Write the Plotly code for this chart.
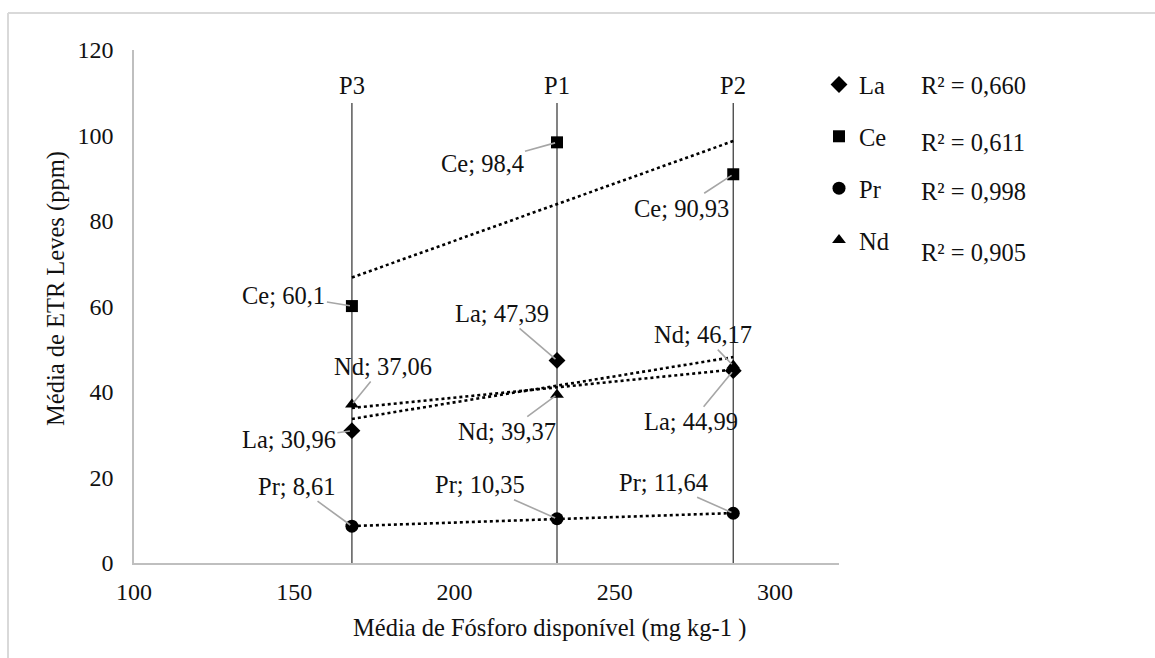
import numpy as np
import plotly.graph_objects as go

# Sampling sites and their mean available phosphorus (mg kg-1)
sites = ["P3", "P1", "P2"]
fosforo = [168, 232, 287]

# Mean light rare-earth element contents (ppm) at each site
la = [30.96, 47.39, 44.99]
ce = [60.1, 98.4, 90.93]
pr = [8.61, 10.35, 11.64]
nd = [37.06, 39.37, 46.17]

r2_labels = ["R² = 0,660", "R² = 0,611", "R² = 0,998", "R² = 0,905"]

FONT = "Liberation Serif"
FS = 24.5
TICK_FS = 24
INK = "#111"

# Plot-area geometry in pixels (used for placing free text)
L, R, T, B = 134, 839, 50, 563
W, H = R - L, B - T


def px_x(px):
    return (px - L) / W


def px_y(py):
    return (B - py) / H


series = [
    ("La", la, "diamond", 13),
    ("Ce", ce, "square", 12),
    ("Pr", pr, "circle", 13),
    ("Nd", nd, "triangle-up", 12),
]

fig = go.Figure()

# Vertical reference lines for each site
for name, xv in zip(sites, fosforo):
    fig.add_shape(type="line", xref="x", yref="y", x0=xv, x1=xv, y0=0, y1=107.6,
                  line=dict(color="#404040", width=1.3), layer="below")
    fig.add_annotation(x=xv, y=111.6, xref="x", yref="y", text=name, showarrow=False,
                       font=dict(family=FONT, size=FS, color=INK))

# Linear trendlines (dotted) over the range of the data
xs = np.array(fosforo, dtype=float)
for name, vals, sym, sz in series:
    slope, inter = np.polyfit(xs, np.array(vals), 1)
    xl = np.array([xs.min(), xs.max()])
    fig.add_trace(go.Scatter(x=xl, y=slope * xl + inter, mode="lines",
                             line=dict(color="black", width=2.6, dash="dot"),
                             showlegend=False, hoverinfo="skip"))

# Markers
for name, vals, sym, sz in series:
    fig.add_trace(go.Scatter(x=fosforo, y=vals, mode="markers", name=name,
                             legendgroup=name,
                             marker=dict(symbol=sym, size=sz, color="black"),
                             showlegend=True))

# Data labels with leader lines (pixel offsets from each point)
label_offsets = {
    "La": [(-63, 9), (-55, -47), (-42, 51)],
    "Ce": [(-68, -11), (-75, 21), (-52, 34)],
    "Pr": [(-55, -40), (-77, -34), (-70, -31)],
    "Nd": [(31, -38), (-50, 37), (-30, -31)],
}


def fmt(v):
    s = ("%.2f" % v).rstrip("0").rstrip(".")
    return s.replace(".", ",")


for name, vals, sym, sz in series:
    for j, (xv, yv) in enumerate(zip(fosforo, vals)):
        ax, ay = label_offsets[name][j]
        fig.add_annotation(x=xv, y=yv, xref="x", yref="y",
                           text=f"{name}; {fmt(yv)}", showarrow=True,
                           arrowhead=0, arrowwidth=1.6, arrowcolor="#a6a6a6",
                           ax=ax, ay=ay, standoff=2,
                           font=dict(family=FONT, size=FS, color=INK))

# R² values beside the legend
r2_y = [85, 142, 191, 252]
for txt, py in zip(r2_labels, r2_y):
    fig.add_annotation(xref="paper", yref="paper", x=px_x(973), y=px_y(py),
                       xanchor="center", yanchor="middle",
                       text=txt, showarrow=False,
                       font=dict(family=FONT, size=FS, color=INK))

# Axis titles
fig.add_annotation(xref="paper", yref="paper", x=px_x(549), y=px_y(628),
                   xanchor="center", yanchor="middle", showarrow=False,
                   text="Média de Fósforo disponível (mg kg-1 )",
                   font=dict(family=FONT, size=FS, color=INK))
fig.add_annotation(xref="paper", yref="paper", x=px_x(56), y=px_y(289),
                   xanchor="center", yanchor="middle", showarrow=False,
                   textangle=-90, text="Média de ETR Leves (ppm)",
                   font=dict(family=FONT, size=FS, color=INK))

# Outer chart border (top and left edges)
fig.add_shape(type="line", xref="paper", yref="paper", x0=px_x(8), x1=1.5,
              y0=px_y(13), y1=px_y(13), line=dict(color="#d9d9d9", width=2))
fig.add_shape(type="line", xref="paper", yref="paper", x0=px_x(8), x1=px_x(8),
              y0=px_y(13), y1=-0.3, line=dict(color="#d9d9d9", width=2))

fig.update_layout(
    width=1155, height=658,
    margin=dict(l=L, r=1155 - R, t=T, b=658 - B),
    paper_bgcolor="white", plot_bgcolor="white",
    font=dict(family=FONT, size=FS, color=INK),
    legend=dict(x=px_x(819), y=px_y(62), xanchor="left", yanchor="top",
                tracegroupgap=17, font=dict(family=FONT, size=FS, color=INK),
                bgcolor="rgba(0,0,0,0)", itemclick=False),
    showlegend=True,
)

fig.update_xaxes(range=[100, 320], tickvals=[100, 150, 200, 250, 300],
                 showline=True, linecolor="#bfbfbf", linewidth=1.5,
                 showgrid=False, zeroline=False, ticks="",
                 ticklabelstandoff=6,
                 tickfont=dict(family=FONT, size=TICK_FS, color=INK))
fig.update_yaxes(range=[0, 120], dtick=20,
                 showline=True, linecolor="#bfbfbf", linewidth=1.5,
                 showgrid=False, zeroline=False, ticks="",
                 ticklabelstandoff=14,
                 tickfont=dict(family=FONT, size=TICK_FS, color=INK))

fig.write_html("out.html")
